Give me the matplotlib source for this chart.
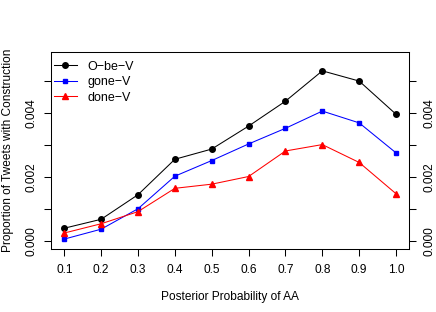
import numpy as np
import matplotlib
matplotlib.use('Agg')
from matplotlib import pyplot as plt

plt.rcParams['font.family'] = ['Liberation Sans', 'DejaVu Sans']
plt.rcParams['font.size'] = 8.6

# posterior probability bins
posterior = [0.1, 0.2, 0.3, 0.4, 0.5, 0.6, 0.7, 0.8, 0.9, 1.0]

# proportion of tweets per construction
o_be_v = [0.00039, 0.00067, 0.00144, 0.00255, 0.00287, 0.00359, 0.00437, 0.00532, 0.00500, 0.00396]
gone_v = [0.00005, 0.00036, 0.00100, 0.00202, 0.00251, 0.00303, 0.00352, 0.00406, 0.00369, 0.00275]
done_v = [0.00024, 0.00053, 0.00091, 0.00164, 0.00177, 0.00201, 0.00281, 0.00301, 0.00245, 0.00147]

series_names = ['O\u2212be\u2212V', 'gone\u2212V', 'done\u2212V']

y_ticks = [0.000, 0.001, 0.002, 0.003, 0.004, 0.005]
y_tick_labels = ['0.000', '', '0.002', '', '0.004', '']


def main():
    fig = plt.figure(figsize=(4.36, 3.12), dpi=100)
    ax = fig.add_axes([0.117, 0.201, 0.8218, 0.6333])

    ax.plot(posterior, o_be_v, color='black', lw=0.75, marker='o', ms=4.0, label=series_names[0])
    ax.plot(posterior, gone_v, color='blue', lw=0.75, marker='s', ms=3.3, label=series_names[1])
    ax.plot(posterior, done_v, color='red', lw=0.75, marker='^', ms=4.2, label=series_names[2])

    ax.set_xlim(0.064, 1.036)
    ax.set_ylim(-0.00027, 0.00592)
    ax.set_xticks(posterior)
    ax.set_xticklabels(['%.1f' % p for p in posterior])
    ax.set_yticks(y_ticks)
    ax.set_yticklabels(y_tick_labels)

    ax.tick_params(axis='both', direction='out', length=5, width=0.75, pad=5.5, colors='black')
    ax.tick_params(axis='y', right=True, labelright=True, pad=5)
    for t in ax.yaxis.get_major_ticks():
        t.label1.set_rotation(90)
        t.label1.set_va('center')
        t.label2.set_rotation(90)
        t.label2.set_va('center')
    for spine in ax.spines.values():
        spine.set_linewidth(0.75)

    ax.set_xlabel('Posterior Probability of AA', labelpad=11)
    ax.set_ylabel('Proportion of Tweets with Construction', labelpad=8)

    ax.legend(loc='upper left', bbox_to_anchor=(0.008, 0.955), frameon=False, fontsize=9,
              handlelength=1.85, handletextpad=0.85, labelspacing=0.28,
              borderaxespad=0, borderpad=0)

    fig.savefig('out.png', dpi=100)


if __name__ == '__main__':
    main()
